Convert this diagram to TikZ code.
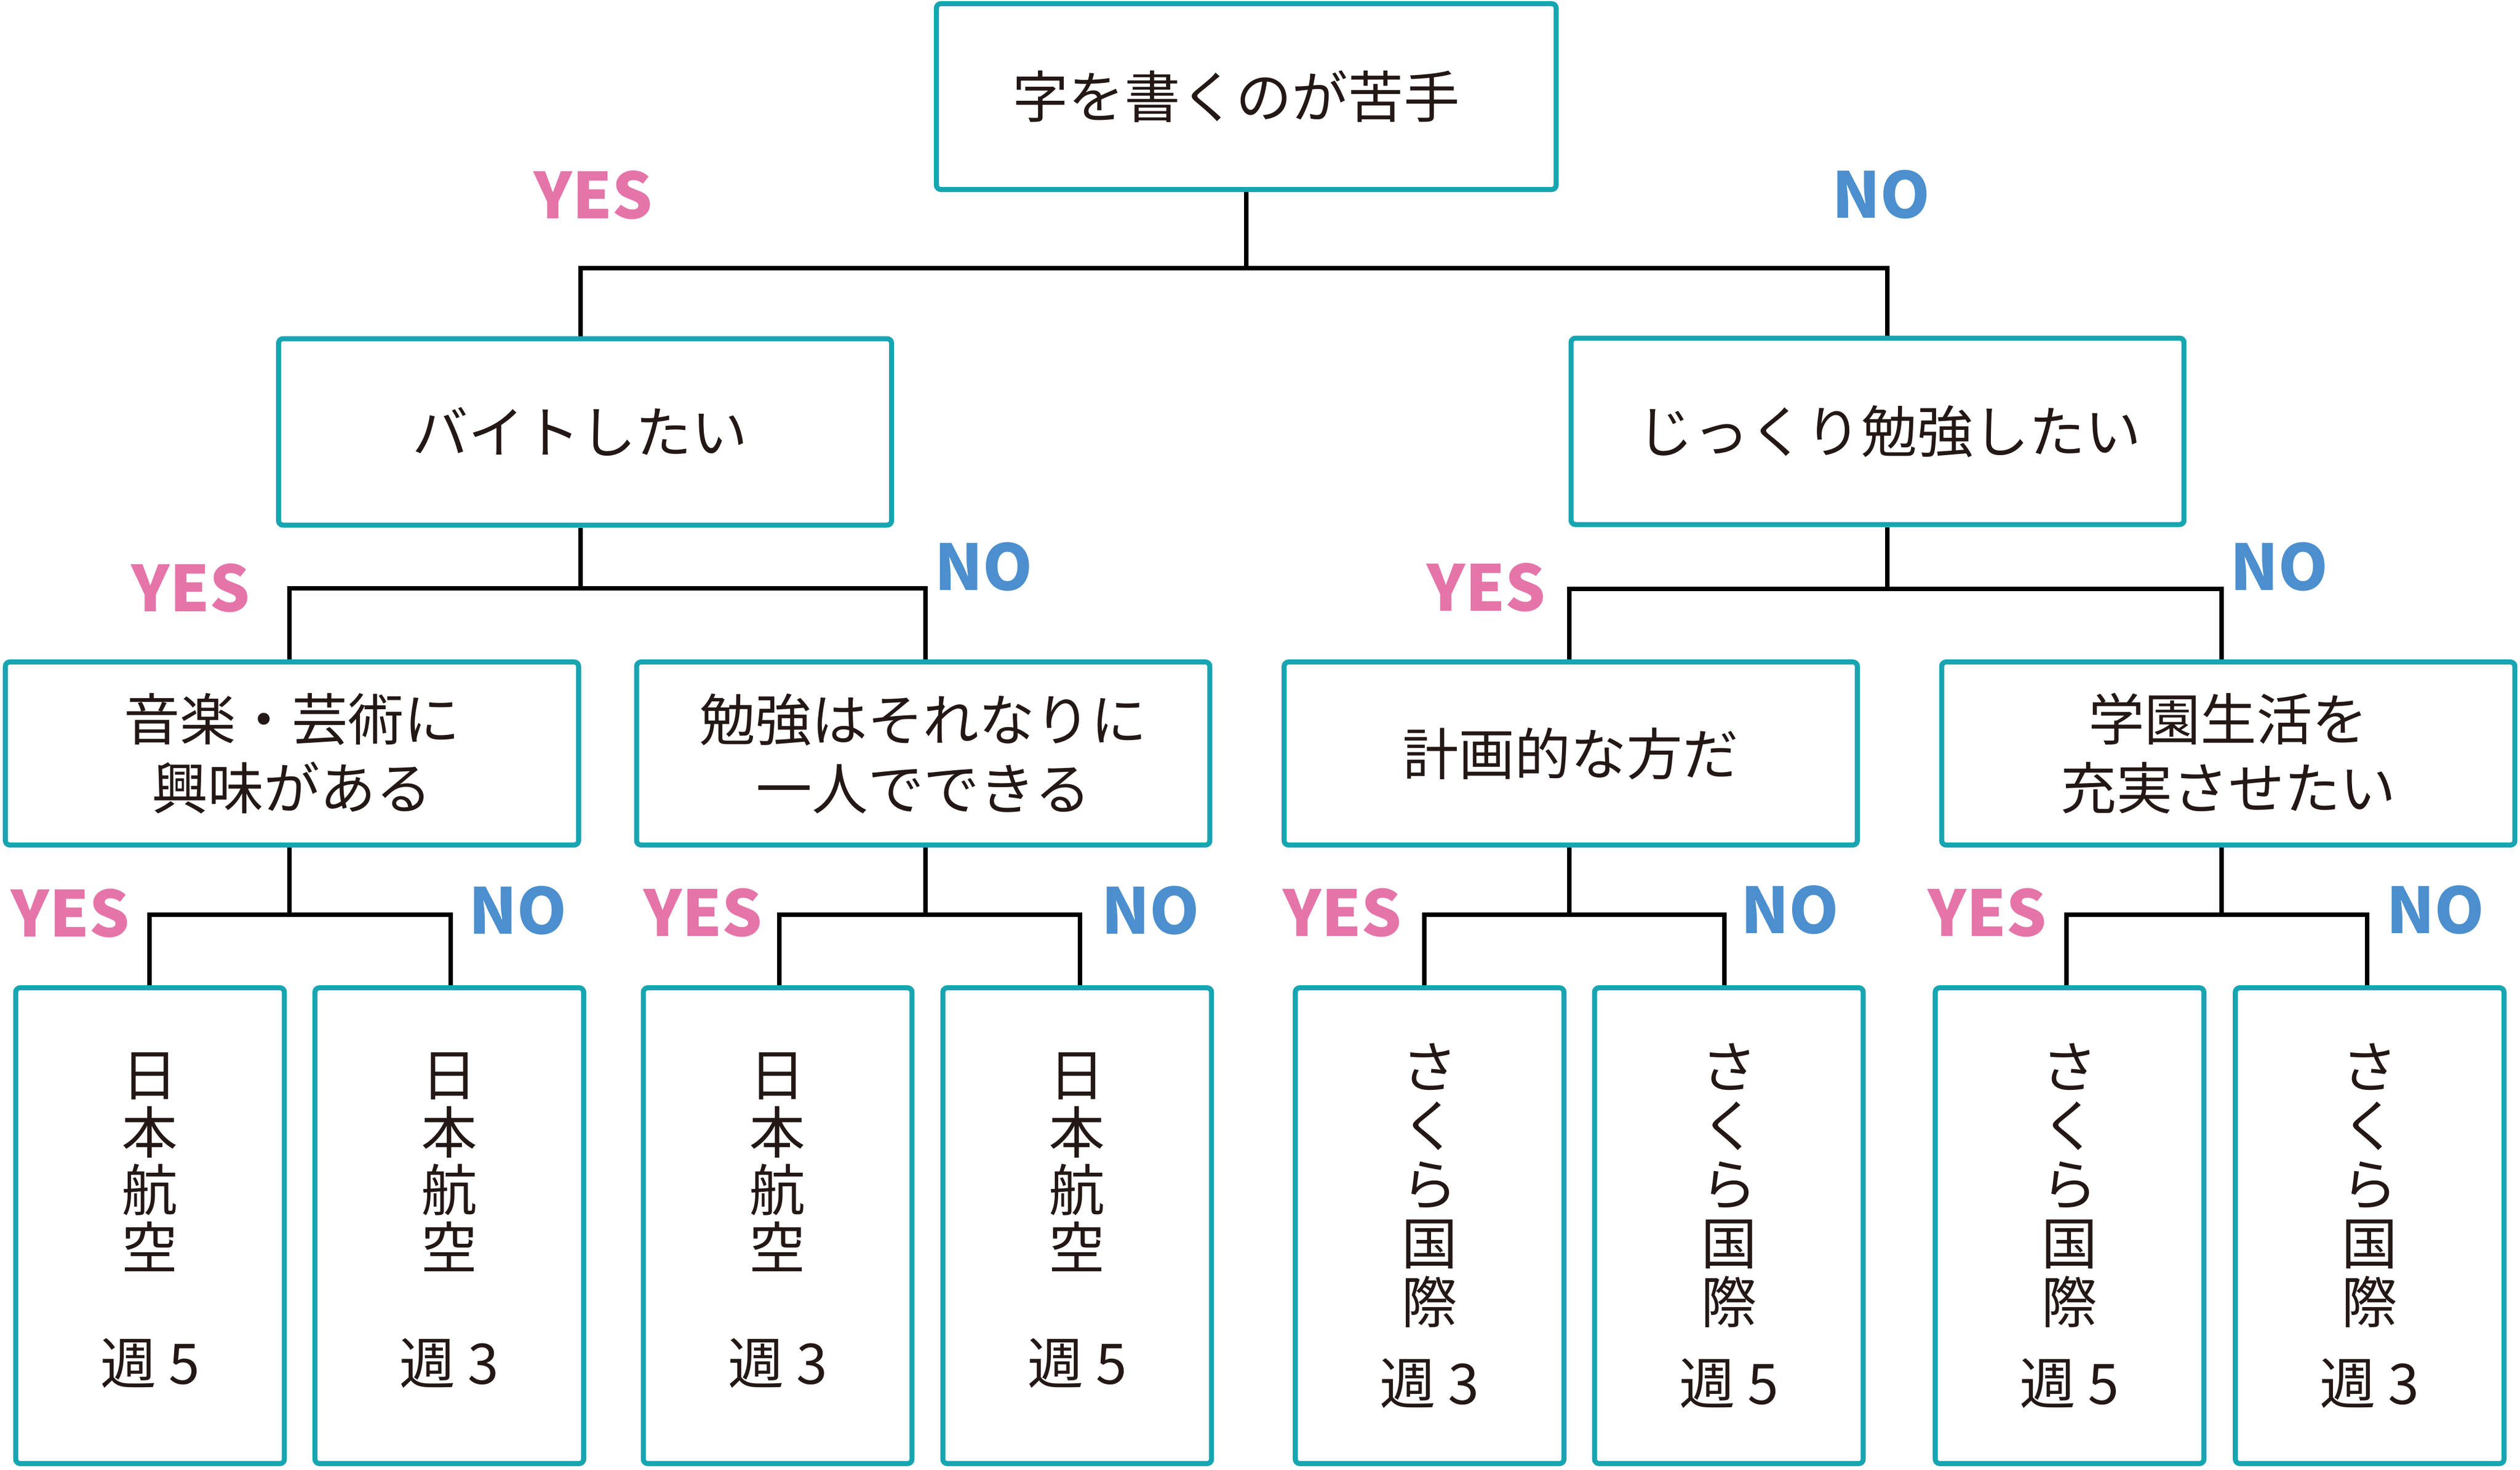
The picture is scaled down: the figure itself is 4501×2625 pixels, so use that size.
\documentclass[tikz,border=0pt]{standalone}
\usepackage{fontspec}
\setmainfont{Noto Sans CJK JP}
\usetikzlibrary{backgrounds}
\definecolor{boxteal}{HTML}{17A5B1}
\definecolor{yespink}{HTML}{E574A9}
\definecolor{noblue}{HTML}{4B8FCE}
\definecolor{ink}{HTML}{231815}
\newcommand{\lowpad}{\rule[-2.6pt]{0pt}{0pt}}
\begin{document}
\begin{tikzpicture}[x=0.1pt,y=-0.1pt,
  qbox/.style={draw=boxteal, line width=0.9pt, rounded corners=0.8pt, fill=white,
    inner sep=0pt, align=center, text=ink, font=\fontsize{10}{12.3}\selectfont},
  lvone/.style={minimum width=109.5pt, minimum height=33.3pt},
  lvtwo/.style={minimum width=102.4pt, minimum height=32.7pt},
  leafl/.style={minimum width=48pt, minimum height=85pt, font=\fontsize{10}{10.3}\selectfont},
  leafr/.style={minimum width=48pt, minimum height=85pt, font=\fontsize{10}{10.5}\selectfont},
  lab/.style={font=\fontsize{11.3}{11.3}\selectfont\bfseries, inner sep=0pt},
  yeslab/.style={lab, text=yespink},
  nolab/.style={lab, text=noblue},
  conn/.style={draw=black, line width=0.8pt, line join=miter}]
\useasboundingbox (0,0) rectangle (4501,2625);

% boxes
\node[qbox, minimum width=110.7pt, minimum height=33.2pt] (root) at (2226,172.5) {\hspace*{-3.6pt}字を書くのが苦手};
\node[qbox, lvone] (bL) at (1045,771.5) {\hspace*{-1.8pt}バイトしたい};
\node[qbox, lvone] (bR) at (3353.5,770.5) {\hspace*{4.2pt}じっくり勉強したい};
\node[qbox, lvtwo] (cA) at (521.5,1346) {音楽・芸術に\\興味がある};
\node[qbox, lvtwo] (cB) at (1649,1346) {勉強はそれなりに\\一人でできる};
\node[qbox, lvtwo] (cC) at (2805.5,1346) {計画的な方だ};
\node[qbox, lvtwo] (cD) at (3980,1346) {学園生活を\\充実させたい};
\node[qbox, leafl] (d1) at (268,2189.5) {日\\本\\航\\空\\[10.3pt]週 5\lowpad};
\node[qbox, leafl] (d2) at (802.5,2189.5) {日\\本\\航\\空\\[10.3pt]週 3\lowpad};
\node[qbox, leafl] (d3) at (1389,2189.5) {日\\本\\航\\空\\[10.3pt]週 3\lowpad};
\node[qbox, leafl] (d4) at (1924,2189.5) {日\\本\\航\\空\\[10.3pt]週 5\lowpad};
\node[qbox, leafr] (d5) at (2553.5,2189.5) {さ\\く\\ら\\国\\際\\[4pt]週 3};
\node[qbox, leafr] (d6) at (3088,2189.5) {さ\\く\\ら\\国\\際\\[4pt]週 5};
\node[qbox, leafr] (d7) at (3696.5,2189.5) {さ\\く\\ら\\国\\際\\[4pt]週 5};
\node[qbox, leafr] (d8) at (4232.5,2189.5) {さ\\く\\ら\\国\\際\\[4pt]週 3};

% labels
\node[yeslab] (y0) at (1060,348) {YES};
\node[nolab]  (n0) at (3360,347) {NO};
\node[yeslab] (y1) at (341,1050) {YES};
\node[nolab]  (n1) at (1757,1012) {NO};
\node[yeslab] (y2) at (2655,1049) {YES};
\node[nolab]  (n2) at (4071,1012) {NO};
\node[yeslab] (y3) at (126,1631) {YES};
\node[nolab]  (n3) at (925,1626) {NO};
\node[yeslab] (y4) at (1256,1630) {YES};
\node[nolab]  (n4) at (2055,1626) {NO};
\node[yeslab] (y5) at (2398,1630) {YES};
\node[nolab]  (n5) at (3197,1625) {NO};
\node[yeslab] (y6) at (3550,1630) {YES};
\node[nolab]  (n6) at (4350,1625) {NO};

% connectors
\begin{scope}[on background layer]
\fill[white] (0,0) rectangle (4501,2625);
\coordinate (j0l) at (1037,479);  \coordinate (j0r) at (3371,479);
\coordinate (j1a) at (517,1051);  \coordinate (j1b) at (1653,1051);
\coordinate (j2a) at (2803,1052); \coordinate (j2b) at (3968,1052);
\coordinate (j3a) at (267,1634);  \coordinate (j3b) at (805,1634);
\coordinate (j4a) at (1392,1634); \coordinate (j4b) at (1929,1634);
\coordinate (j5a) at (2544,1634); \coordinate (j5b) at (3080,1634);
\coordinate (j6a) at (3691,1634); \coordinate (j6b) at (4228,1634);

\draw[conn] (root.south) -- (root.south |- j0l);
\draw[conn] (j0l |- bL.north) -- (j0l) -- (j0r) -- (j0r |- bR.north);

\draw[conn] (j0l |- bL.south) -- (j0l |- j1a);
\draw[conn] (j1a |- cA.north) -- (j1a) -- (j1b) -- (j1b |- cB.north);
\draw[conn] (j0r |- bR.south) -- (j0r |- j2a);
\draw[conn] (j2a |- cC.north) -- (j2a) -- (j2b) -- (j2b |- cD.north);

\draw[conn] (j1a |- cA.south) -- (j1a |- j3a);
\draw[conn] (j3a |- d1.north) -- (j3a) -- (j3b) -- (j3b |- d2.north);
\draw[conn] (j1b |- cB.south) -- (j1b |- j4a);
\draw[conn] (j4a |- d3.north) -- (j4a) -- (j4b) -- (j4b |- d4.north);
\draw[conn] (j2a |- cC.south) -- (j2a |- j5a);
\draw[conn] (j5a |- d5.north) -- (j5a) -- (j5b) -- (j5b |- d6.north);
\draw[conn] (j2b |- cD.south) -- (j2b |- j6a);
\draw[conn] (j6a |- d7.north) -- (j6a) -- (j6b) -- (j6b |- d8.north);
\end{scope}
\end{tikzpicture}
\end{document}
